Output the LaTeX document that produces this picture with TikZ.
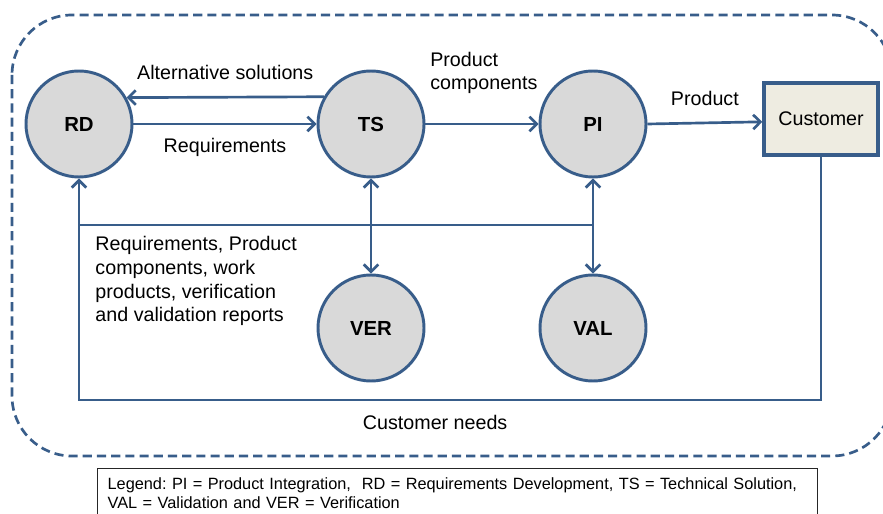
\documentclass[tikz,border=0pt]{standalone}
\usepackage{fontspec}
\setmainfont{Liberation Sans}
\usepackage{tikz}
\usetikzlibrary{positioning, arrows.meta}
\usepackage{xcolor}
\definecolor{lineblue}{RGB}{56,93,138}
\definecolor{circgray}{RGB}{217,217,217}
\definecolor{custbeige}{RGB}{238,236,225}
\frenchspacing

\begin{document}
\begin{tikzpicture}[node distance=5cm, on grid, auto, >={Straight Barb[length=1.8mm,width=3.6mm]}]
    % Define styles
    \tikzstyle{area} = [circle, minimum size=2.65cm, inner sep=0pt, text centered, draw=lineblue, line width=2.1pt, fill=circgray, font=\fontsize{14.5}{17}\selectfont\bfseries]
    \tikzstyle{actor} = [rectangle, minimum width=2.85cm, minimum height=1.8cm, text centered, draw=lineblue, line width=2.4pt, fill=custbeige, font=\fontsize{14}{17}\selectfont]
    \tikzstyle{arrow} = [draw=lineblue, line width=1.9pt, ->]
    \tikzstyle{twoway} = [draw=lineblue, line width=1.9pt, <->]
    \tikzstyle{link} = [draw=lineblue, line width=1.9pt]
    \tikzstyle{lbl} = [font=\fontsize{14}{16.9}\selectfont, inner sep=0pt]
    \tikzstyle{frame} = [draw=lineblue, line width=1.9pt, dash pattern=on 6.5pt off 3.6pt, rounded corners=1.5cm]

    \useasboundingbox (0,0) rectangle (22.075,-12.85);

    % Frame
    \draw [frame] (0.3,-0.375) rectangle (22.3,-11.4);

    % Nodes
    \node (rd) [area] at (1.975,-3.1) {RD};
    \node (ts) [area, right=7.3cm of rd] {TS};
    \node (pi) [area, right=5.55cm of ts] {PI};
    \node (cust) [actor, above right=0.125cm and 5.7cm of pi] {Customer};
    \node (ver) [area, below=5.1cm of ts] {VER};
    \node (val) [area, below=5.1cm of pi] {VAL};
    \coordinate [below=2.525cm of rd] (bus);
    \coordinate [below=6.9cm of rd] (feed);

    % Labels
    \node (pclbl) [lbl, align=left, anchor=west] at (10.75,-1.825) {Product\\components};
    \node (wplbl) [lbl, align=left, anchor=north west] at (2.38,-5.9) {Requirements, Product\\components, work\\products, verification\\and validation reports};

    % Arrows
    \draw [arrow] (ts.150.6) -- node[lbl, above=0.4cm] {Alternative solutions} (rd.29.4);
    \draw [arrow] (rd) -- node[lbl, below=0.33cm] {Requirements} (ts);
    \draw [arrow] (ts) -- (pi);
    \draw [arrow] (pi.east) -- node[lbl, above=0.4cm] {Product} ([yshift=-2pt]cust.west);
    \draw [link] (bus) -- (pi |- bus);
    \draw [twoway] (ts) -- (ver);
    \draw [twoway] (pi) -- (val);
    \draw [arrow] (cust.south) |- node[lbl, below=0.345cm, pos=0.76] {Customer needs} (feed) -- (rd.south);

    % Legend
    \node (legend) [draw=black!85, line width=0.9pt, anchor=north west, text width=17.5cm, inner xsep=0.25cm, inner ysep=0.22cm, align=left, font=\fontsize{11.6}{13.5}\selectfont] at (2.425,-11.7) {Legend: PI = Product Integration,\ \ RD = Requirements Development, TS = Technical Solution,\\VAL = Validation and VER = Verification};
\end{tikzpicture}
\end{document}
